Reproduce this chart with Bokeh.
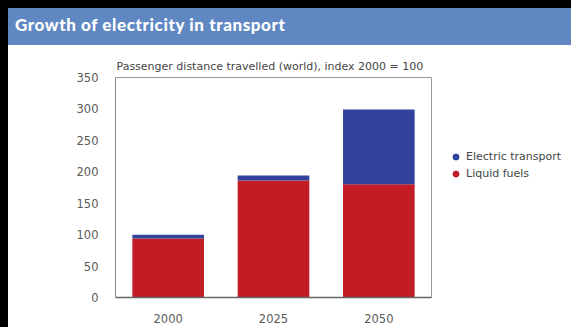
from bokeh.plotting import figure
from bokeh.models import (ColumnDataSource, Legend, LegendItem, SingleIntervalTicker,
                          Div, FactorRange)
from bokeh.layouts import column, row
from bokeh.embed import file_html
from bokeh.resources import INLINE

# ---- data ----
years = ["2000", "2025", "2050"]
liquid_fuels = [94, 186, 180]
electric_transport = [6, 8, 119]
y_ticks = [0, 50, 100, 150, 200, 250, 300, 350]

title_text = "Growth of electricity in transport"
subtitle_text = "Passenger distance travelled (world), index 2000 = 100"

RED = "#c21d24"
BLUE = "#33429b"
HEADER = "#5f88c3"
FONT = "DejaVu Sans"

source = ColumnDataSource(dict(year=years, liquid=liquid_fuels, electric=electric_transport,
                               total=[a + b for a, b in zip(liquid_fuels, electric_transport)]))

header = Div(
    text=(f'<div style="width:563px;height:37px;background:{HEADER};color:#ffffff;'
          'font-family:Lato;font-weight:900;font-size:17px;line-height:34px;'
          'padding-left:7px;box-sizing:border-box;letter-spacing:0.6px;">'
          f'{title_text}</div>'),
    width=563, height=37, margin=(0, 0, 0, 0),
)

p = figure(
    x_range=FactorRange(*years, range_padding=0),
    y_range=(0, 350),
    width=424, height=282,
    output_backend="svg", toolbar_location=None,
    min_border_left=107, min_border_right=1, min_border_top=32, min_border_bottom=30,
    margin=(0, 0, 0, 0),
)
p.title.text = subtitle_text
p.title.text_font = FONT
p.title.text_font_size = "11px"
p.title.text_font_style = "normal"
p.title.text_color = "#444444"
p.title.offset = 1
p.title.standoff = 9

p.vbar_stack(["liquid", "electric"], x="year", width=0.68, source=source,
             color=[RED, BLUE], line_color=None)

p.xgrid.grid_line_color = None
p.ygrid.grid_line_color = None
p.outline_line_color = "#9a9a9a"
p.outline_line_width = 1

p.yaxis.ticker = SingleIntervalTicker(interval=50)
p.yaxis.major_tick_line_color = None
p.yaxis.minor_tick_line_color = None
p.yaxis.axis_line_color = "#8a8a8a"
p.yaxis.major_label_standoff = 11
p.yaxis.major_label_text_font = FONT
p.yaxis.major_label_text_font_size = "11.5px"
p.yaxis.major_label_text_color = "#5a5a5a"

p.xaxis.major_tick_line_color = None
p.xaxis.minor_tick_line_color = None
p.xaxis.axis_line_color = "#666666"
p.xaxis.axis_line_width = 1.5
p.xaxis.major_label_standoff = 10
p.xaxis.major_label_text_font = FONT
p.xaxis.major_label_text_font_size = "11.5px"
p.xaxis.major_label_text_color = "#5a5a5a"

# separate panel for the legend (to the right of the chart)
lg = figure(
    x_range=p.x_range, y_range=p.y_range,
    width=139, height=282,
    output_backend="svg", toolbar_location=None,
    min_border=0, margin=(0, 0, 0, 0),
)
lg.axis.visible = False
lg.xgrid.grid_line_color = None
lg.ygrid.grid_line_color = None
lg.outline_line_color = None

r_el = lg.scatter("year", "total", source=source, marker="circle", size=6, color=BLUE, visible=False)
r_lq = lg.scatter("year", "liquid", source=source, marker="circle", size=6, color=RED, visible=False)

legend = Legend(
    items=[LegendItem(label="Electric transport", renderers=[r_el]),
           LegendItem(label="Liquid fuels", renderers=[r_lq])],
    location=(16, 116),
    border_line_color=None, background_fill_alpha=0, inactive_fill_alpha=0,
    padding=0, margin=0, spacing=2,
    glyph_width=15, glyph_height=15, label_height=15, label_standoff=3,
    label_text_font=FONT, label_text_font_size="11px", label_text_color="#444444",
)
lg.add_layout(legend, "center")

layout = column(header, row(p, lg, spacing=0, margin=(0, 0, 0, 0),
                            styles={"background-color": "#ffffff", "overflow": "hidden"}),
                spacing=0, margin=(0, 0, 0, 0),
                styles={"background-color": "#ffffff", "overflow": "hidden"})

html = file_html(layout, INLINE)
html = html.replace(
    "</head>",
    "<style>html, body { background: #ffffff; overflow: hidden; } "
    "body { border-top: 8px solid #000000; border-left: 8px solid #000000; }</style></head>",
    1)
open("out.html", "w").write(html)
